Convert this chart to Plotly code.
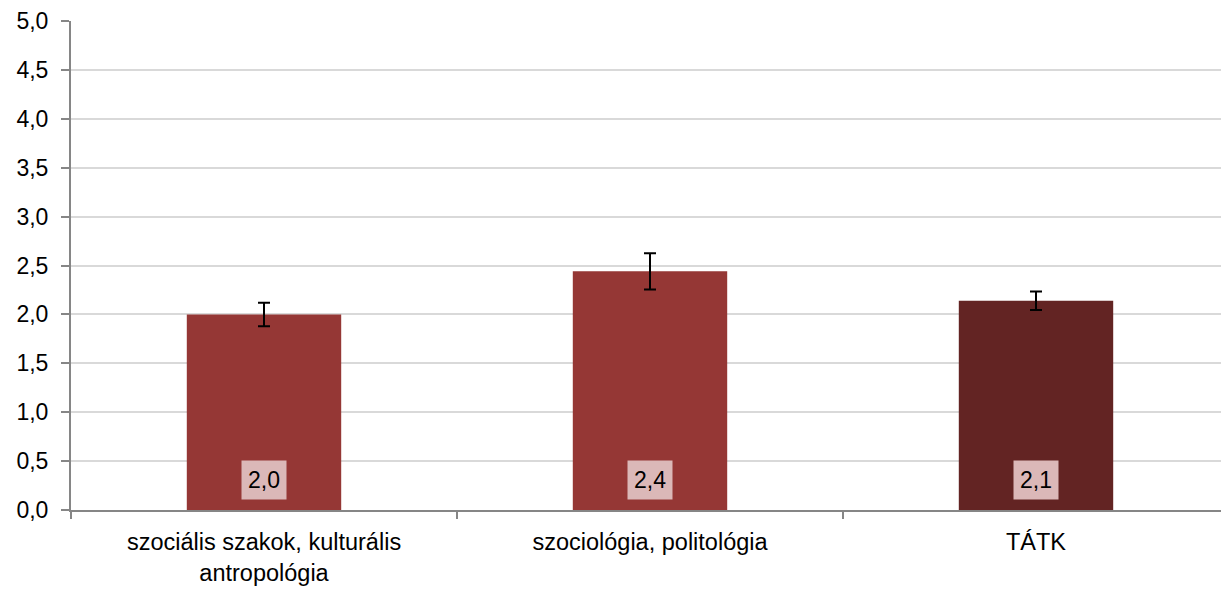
import plotly.graph_objects as go

categories = ["szociális szakok, kulturális<br>antropológia", "szociológia, politológia", "TÁTK"]
values = [2.0, 2.44, 2.14]
errors = [0.12, 0.185, 0.095]
labels = ["2,0", "2,4", "2,1"]
colors = ["#953735", "#953735", "#632423"]

FONT = "Liberation Sans"

fig = go.Figure()
fig.add_trace(go.Bar(
    x=categories, y=values, width=0.4,
    marker=dict(color=colors, line=dict(width=0)),
    error_y=dict(type="data", array=errors, visible=True, color="black", thickness=2, width=6),
    showlegend=False,
))
for c, l in zip(categories, labels):
    fig.add_annotation(x=c, y=0, yref="y", text=l, showarrow=False, yshift=30,
                       bgcolor="#dbb8b8", font=dict(family=FONT, size=23, color="black"),
                       borderpad=6)

fig.update_layout(
    width=1229, height=592,
    margin=dict(l=63, r=8, t=13, b=90, autoexpand=False),
    plot_bgcolor="white", paper_bgcolor="white",
    separators=", ",
    font=dict(family=FONT, size=23, color="black"),
    bargap=0.6,
)
fig.update_yaxes(range=[0, 5], dtick=0.5, tickformat=".1f", showgrid=True, gridcolor="#d9d9d9",
                 gridwidth=2, showline=True, linecolor="#868686", linewidth=2,
                 ticks="outside", ticklen=8, tickcolor="#868686", tickwidth=2,
                 ticklabelstandoff=8, zeroline=False, tickfont=dict(size=23), automargin=False)
fig.update_xaxes(showline=True, linecolor="#868686", linewidth=2, ticks="outside",
                 tickson="boundaries", ticklen=7, tickcolor="#868686", tickwidth=2,
                 ticklabelstandoff=10, tickfont=dict(size=23.5), automargin=False)
fig.write_html("out.html")
